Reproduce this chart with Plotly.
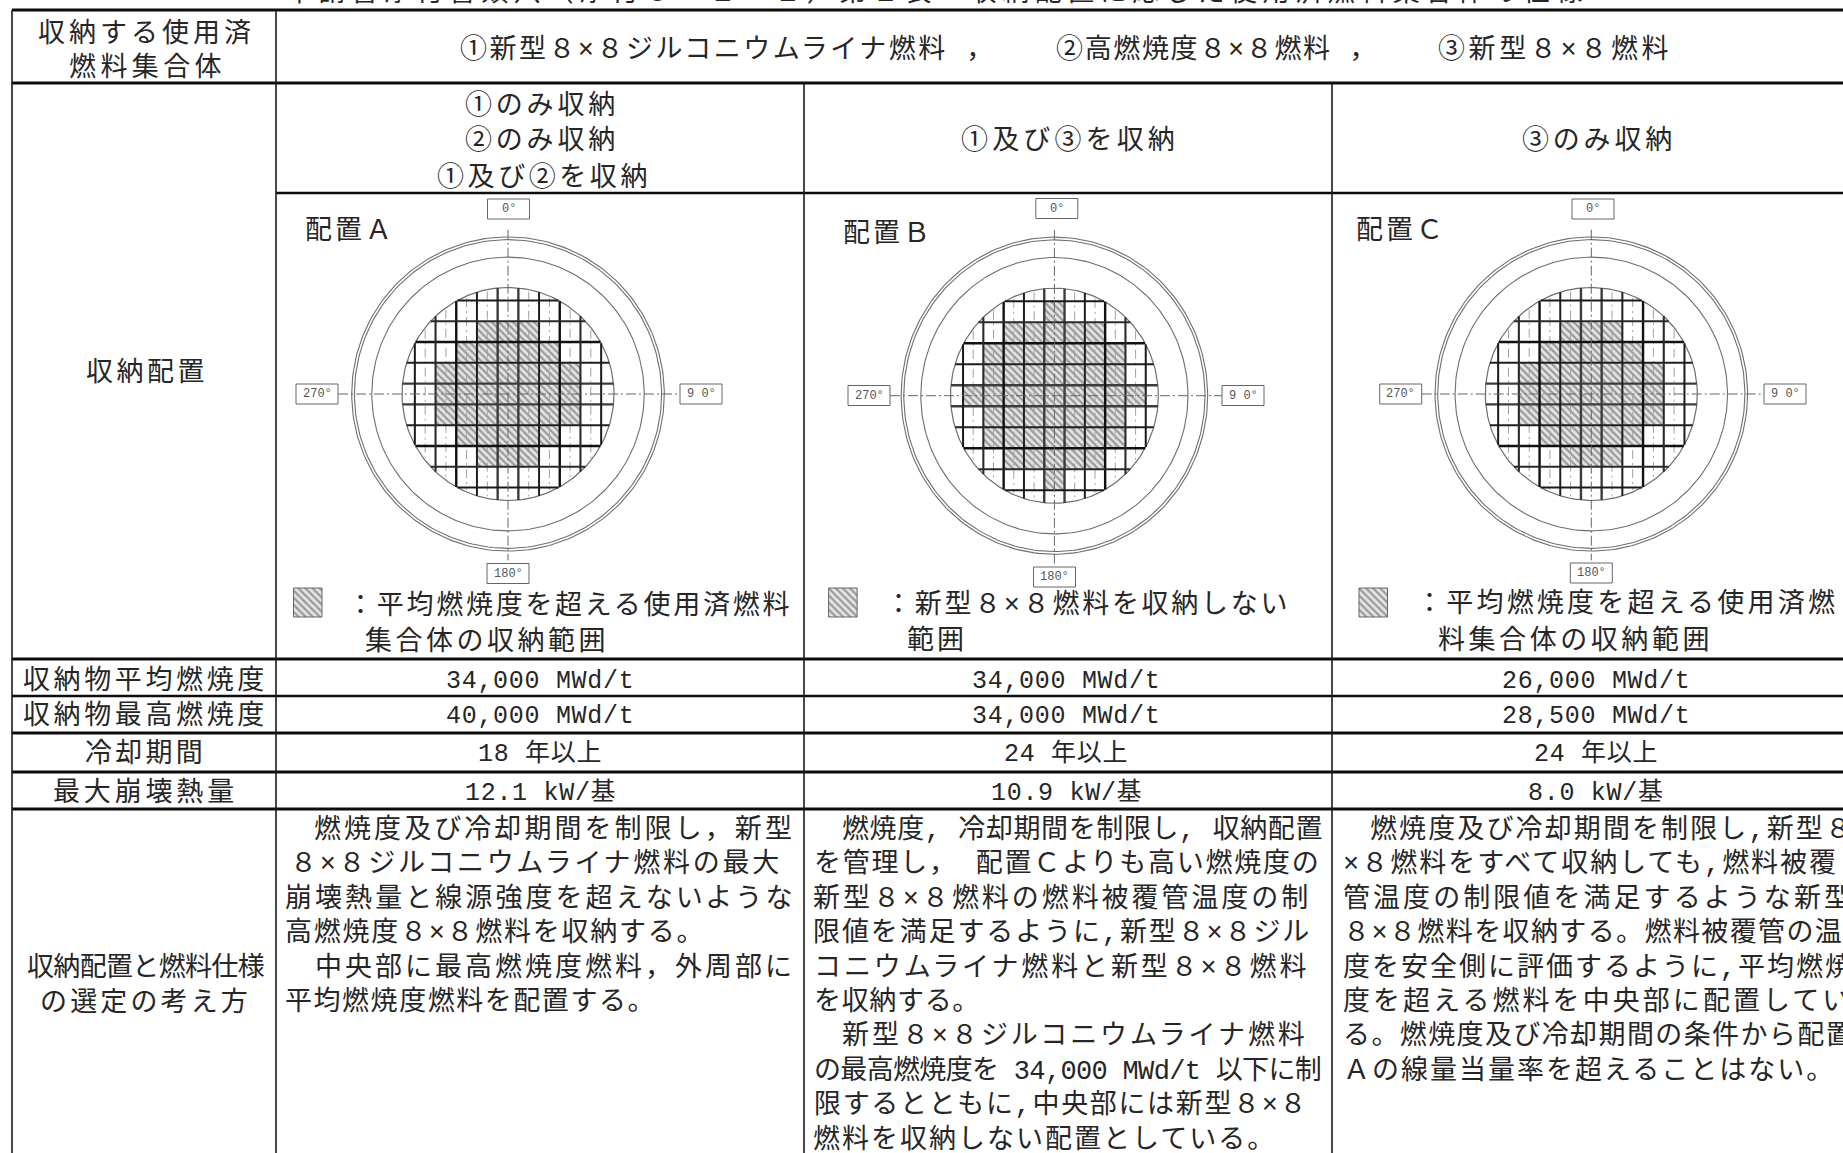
import numpy as np
import plotly.graph_objects as go

# ---------- table text ----------
page_title = "申請書添付書類八（添付８－２－２）第２表　収納配置に応じた使用済燃料集合体の仕様"
fuel_types = ["①新型８×８ジルコニウムライナ燃料 ，", "②高燃焼度８×８燃料 ，", "③新型８×８燃料"]
row_labels = ["収納物平均燃焼度", "収納物最高燃焼度", "冷却期間", "最大崩壊熱量"]
burnup_avg = ["34,000 MWd/t", "34,000 MWd/t", "26,000 MWd/t"]
burnup_max = ["40,000 MWd/t", "34,000 MWd/t", "28,500 MWd/t"]
cooling = ["18 年以上", "24 年以上", "24 年以上"]
decay_heat = ["12.1 kW/基", "10.9 kW/基", "8.0 kW/基"]
loading_a = ["①のみ収納", "②のみ収納", "①及び②を収納"]
loading_b = "①及び③を収納"
loading_c = "③のみ収納"
layouts = ["配置Ａ", "配置Ｂ", "配置Ｃ"]

text_a = ["燃焼度及び冷却期間を制限し，新型", "８×８ジルコニウムライナ燃料の最大", "崩壊熱量と線源強度を超えないような",
          "高燃焼度８×８燃料を収納する。", "中央部に最高燃焼度燃料，外周部に", "平均燃焼度燃料を配置する。"]
text_a_x = [(313, 794), (289, 794), (284, 795), (284, 715), (314, 794), (284, 655)]
text_b = ["燃焼度, 冷却期間を制限し, 収納配置", "を管理し， 配置Ｃよりも高い燃焼度の", "新型８×８燃料の燃料被覆管温度の制",
          "限値を満足するように,新型８×８ジル", "コニウムライナ燃料と新型８×８燃料", "を収納する。",
          "新型８×８ジルコニウムライナ燃料", "の最高燃焼度を 34,000 MWd/t 以下に制", "限するとともに,中央部には新型８×８",
          "燃料を収納しない配置としている。"]
text_b_x = [(841, 1322), (813, 1320), (812, 1321), (812, 1321), (813, 1321), (813, 979),
            (841, 1320), (813, 1320), (813, 1318), (812, 1276)]
text_c = ["燃焼度及び冷却期間を制限し,新型８", "×８燃料をすべて収納しても,燃料被覆", "管温度の制限値を満足するような新型",
          "８×８燃料を収納する。燃料被覆管の温", "度を安全側に評価するように,平均燃焼", "度を超える燃料を中央部に配置してい",
          "る。燃焼度及び冷却期間の条件から配置", "Ａの線量当量率を超えることはない。"]
text_c_x = [(1369, 1853), (1342, 1853), (1342, 1853), (1342, 1853), (1342, 1853), (1342, 1853), (1342, 1853), (1342, 1835)]

legend_a = ["：平均燃焼度を超える使用済燃料", "集合体の収納範囲"]
legend_b = ["：新型８×８燃料を収納しない", "範囲"]
legend_c = ["：平均燃焼度を超える使用済燃", "料集合体の収納範囲"]
angle_labels = ["0°", "9 0°", "180°", "270°"]

# ---------- diagrams ----------
centre_x = [508, 1054.4, 1591.3]
centre_y = [394, 395.7, 394]
cell_w = [20.7, 20.3, 20.7]
cell_h = [20.8, 21.0, 20.8]
# hatched half-width (in cells) for rows, top to bottom, centred on row 0
hatch_a = [1, 2, 3, 3, 3, 2, 1]
hatch_b = [0, 2, 3, 3, 4, 3, 3, 2, 0]
hatch_c = [1, 2, 3, 3, 3, 2, 1]
radii = [7.55, 7.42, 6.58, 5.12]
box_top = [(508.5, 209), (1056.8, 208.5), (1593, 209)]
box_bottom = [(508, 573.5), (1054.5, 577), (1591.3, 573)]
box_left = [(317, 394), (869, 395.5), (1400.7, 394)]
box_right = [(701, 394), (1243, 395.5), (1785, 394)]
swatch_x = [293.5, 828.6, 1359]
swatch_y = 588
swatch_size = (28.5, 29)

# ---------- table rules ----------
rule_y = [10, 83, 193, 659, 696, 733, 772, 809]
rule_w = [3, 3, 2.4, 3, 2.4, 3, 3, 3]
rule_x0 = [12, 12, 276, 12, 12, 12, 12, 12]
col_x = [12, 276, 804, 1332]
col_y0 = [10, 10, 83, 83]
col_centre = [540, 1066, 1596]
INK = "#262626"
MIX = "Liberation Mono, Noto Sans CJK JP"
TXT = 27

fig = go.Figure()
ann = []


def advance(s, size):
    return sum(0.6 * size if ord(c) < 128 else size for c in s)


def put(s, x, y, size=TXT, x1=None, pitch=None, anchor="left", color=INK):
    """One line of text; x..x1 is its horizontal extent, obtained with letter spacing."""
    n = max(len(s), 1)
    if x1 is not None:
        sp = (x1 - x - advance(s, size)) / n
    elif pitch is not None:
        sp = pitch
    else:
        sp = 0
    ann.append(dict(x=x, y=y, xref="x", yref="y", showarrow=False, xanchor=anchor, yanchor="middle",
                    borderpad=0, align="left",
                    text=f'<span style="letter-spacing:{sp:.2f}px">{s}</span>',
                    font=dict(family=MIX, size=size, color=color)))


def line_trace(xs, ys, width=1.0, color=INK, dash="solid"):
    fig.add_trace(go.Scatter(x=xs, y=ys, mode="lines", hoverinfo="skip", showlegend=False,
                             line=dict(color=color, width=width, dash=dash)))


def hatch_trace(xs, ys):
    fig.add_trace(go.Scatter(x=xs, y=ys, mode="lines", fill="toself", hoverinfo="skip", showlegend=False,
                             line=dict(width=0, color="rgba(0,0,0,0)"), fillcolor="rgba(0,0,0,0)",
                             fillpattern=dict(shape="\\", size=5, solidity=0.42, fgcolor="#4d4d4d", bgcolor="#e4e4e4")))


# hatched cells
for cx, cy, w, h, rows in zip(centre_x, centre_y, cell_w, cell_h, [hatch_a, hatch_b, hatch_c]):
    xs, ys = [], []
    r0 = -(len(rows) // 2)
    for i, hw in enumerate(rows):
        row = r0 + i
        l, r = cx - (hw + 0.5) * w, cx + (hw + 0.5) * w
        t, b = cy + (row - 0.5) * h, cy + (row + 0.5) * h
        xs += [l, r, r, l, l, None]
        ys += [t, t, b, b, t, None]
    hatch_trace(xs, ys)

# circles, basket grid, centre lines, angle boxes
theta = np.linspace(0, 2 * np.pi, 241)
for d, (cx, cy, w, h) in enumerate(zip(centre_x, centre_y, cell_w, cell_h)):
    for R, lw in zip(radii, [1.1, 1.1, 1.1, 1.2]):
        line_trace(cx + R * w * np.cos(theta), cy + R * h * np.sin(theta), lw, "#6e6e6e")
    R = radii[3]
    # dash-dot guide lines at the assembly centres
    xs, ys = [], []
    for k in [-4, -3, -2, -1, 1, 2, 3, 4]:
        half = np.sqrt(R ** 2 - k ** 2) - 0.1
        xs += [cx + k * w, cx + k * w, None]
        ys += [cy - half * h, cy + half * h, None]
    line_trace(xs, ys, 1.0, "#a0a0a0", "9px,4px,2px,4px")
    # grid bars
    for k, lw, col in [(0.5, 2.4, "#3c3c3c"), (1.5, 2.0, "#1f1f1f"), (2.5, 2.4, "#111111"),
                       (3.5, 2.1, "#2a2a2a"), (4.5, 2.0, "#1a1a1a")]:
        half = np.sqrt(R ** 2 - k ** 2)
        xs, ys = [], []
        for s in (-1, 1):
            xs += [cx + s * k * w, cx + s * k * w, None]
            ys += [cy - half * h, cy + half * h, None]
            xs += [cx - half * w, cx + half * w, None]
            ys += [cy + s * k * h, cy + s * k * h, None]
        line_trace(xs, ys, lw, col)
    # centre lines
    line_trace([cx, cx], [cy - 7.9 * h, cy + 8.0 * h], 1.0, "#666666", "10px,3px,2px,3px")
    line_trace([box_left[d][0] + 21, box_right[d][0] - 21], [cy, cy], 1.0, "#666666", "10px,3px,2px,3px")
    # angle boxes
    for (bx, by), lab in zip([box_top[d], box_right[d], box_bottom[d], box_left[d]], angle_labels):
        line_trace([bx - 21, bx + 21, bx + 21, bx - 21, bx - 21], [by - 10, by - 10, by + 10, by + 10, by - 10], 1.0, "#666666")
        put(lab, bx, by, size=12, anchor="center", color="#555555")
    # legend swatch
    sx, sy = swatch_x[d], swatch_y
    sw, sh = swatch_size
    hatch_trace([sx, sx + sw, sx + sw, sx, sx], [sy, sy, sy + sh, sy + sh, sy])
    line_trace([sx, sx + sw, sx + sw, sx, sx], [sy, sy, sy + sh, sy + sh, sy], 1.0, "#666666")

# table rules
for y, lw, x0 in zip(rule_y, rule_w, rule_x0):
    line_trace([x0, 1843], [y, y], lw, "#0c0c0c")
for x, y0 in zip(col_x, col_y0):
    line_trace([x, x], [y0, 1153], 1.6, "#1a1a1a")

# ---------- texts ----------
title_sp = (1587 - 285 - advance(page_title, TXT)) / len(page_title)
ann.append(dict(x=285, y=10, xref="x", yref="y", showarrow=False, xanchor="left", yanchor="bottom", borderpad=0,
                text=f'<span style="letter-spacing:{title_sp:.2f}px">{page_title}</span>',
                font=dict(family=MIX, size=TXT, color=INK)))
put("収納する使用済", 37, 34, x1=254)
put("燃料集合体", 68, 68, x1=225)
for s, (x0, x1) in zip(fuel_types, [(459, 1008), (1055, 1388), (1437, 1682)]):
    put(s, x0, 50, x1=x1)
for s, (x0, x1), y in zip(loading_a, [(464, 618), (464, 618), (436, 650)], [106, 141, 178]):
    put(s, x0, y, x1=x1)
put(loading_b, 960, 141, x1=1178)
put(loading_c, 1521, 141, x1=1675)
put("収納配置", 85, 373, x1=207)
for s, x, y in zip(layouts, [304, 842, 1355], [232, 235, 232]):
    put(s, x, y, size=27, x1=x + 90)

legend_pos = [[(346, 792, 606), (364, 608, 642)], [(884, 1300, 605), (906, 966, 641)], [(1415, 1838, 604), (1437, 1712, 641)]]
for lines, pos in zip([legend_a, legend_b, legend_c], legend_pos):
    for s, (x0, x1, y) in zip(lines, pos):
        put(s, x0, y, x1=x1)

for s, (x0, x1), y in zip(row_labels, [(22, 267), (22, 267), (84, 205), (52, 237)], [681, 716, 754, 793]):
    put(s, x0, y, x1=x1)
for vals, y in zip([burnup_avg, burnup_max, cooling, decay_heat], [681, 716, 754, 793]):
    for s, cxc in zip(vals, col_centre):
        put(s, cxc, y, size=25, anchor="center", pitch=0.7)

put("収納配置と燃料仕様", 26, 968, x1=263)
put("の選定の考え方", 39, 1003, x1=250)
for lines, xr in [(text_a, text_a_x), (text_b, text_b_x), (text_c, text_c_x)]:
    for i, (s, (x0, x1)) in enumerate(zip(lines, xr)):
        put(s, x0, 830 + 34.4 * i, x1=x1)

fig.update_layout(
    width=1843, height=1153, margin=dict(l=0, r=0, t=0, b=0), showlegend=False,
    paper_bgcolor="white", plot_bgcolor="white", annotations=ann,
    xaxis=dict(range=[0, 1843], visible=False, fixedrange=True),
    yaxis=dict(range=[1153, 0], visible=False, fixedrange=True),
)
fig.write_html("out.html", config=dict(displayModeBar=False),
               post_script="document.body.style.margin='0';document.body.style.overflow='hidden';")
